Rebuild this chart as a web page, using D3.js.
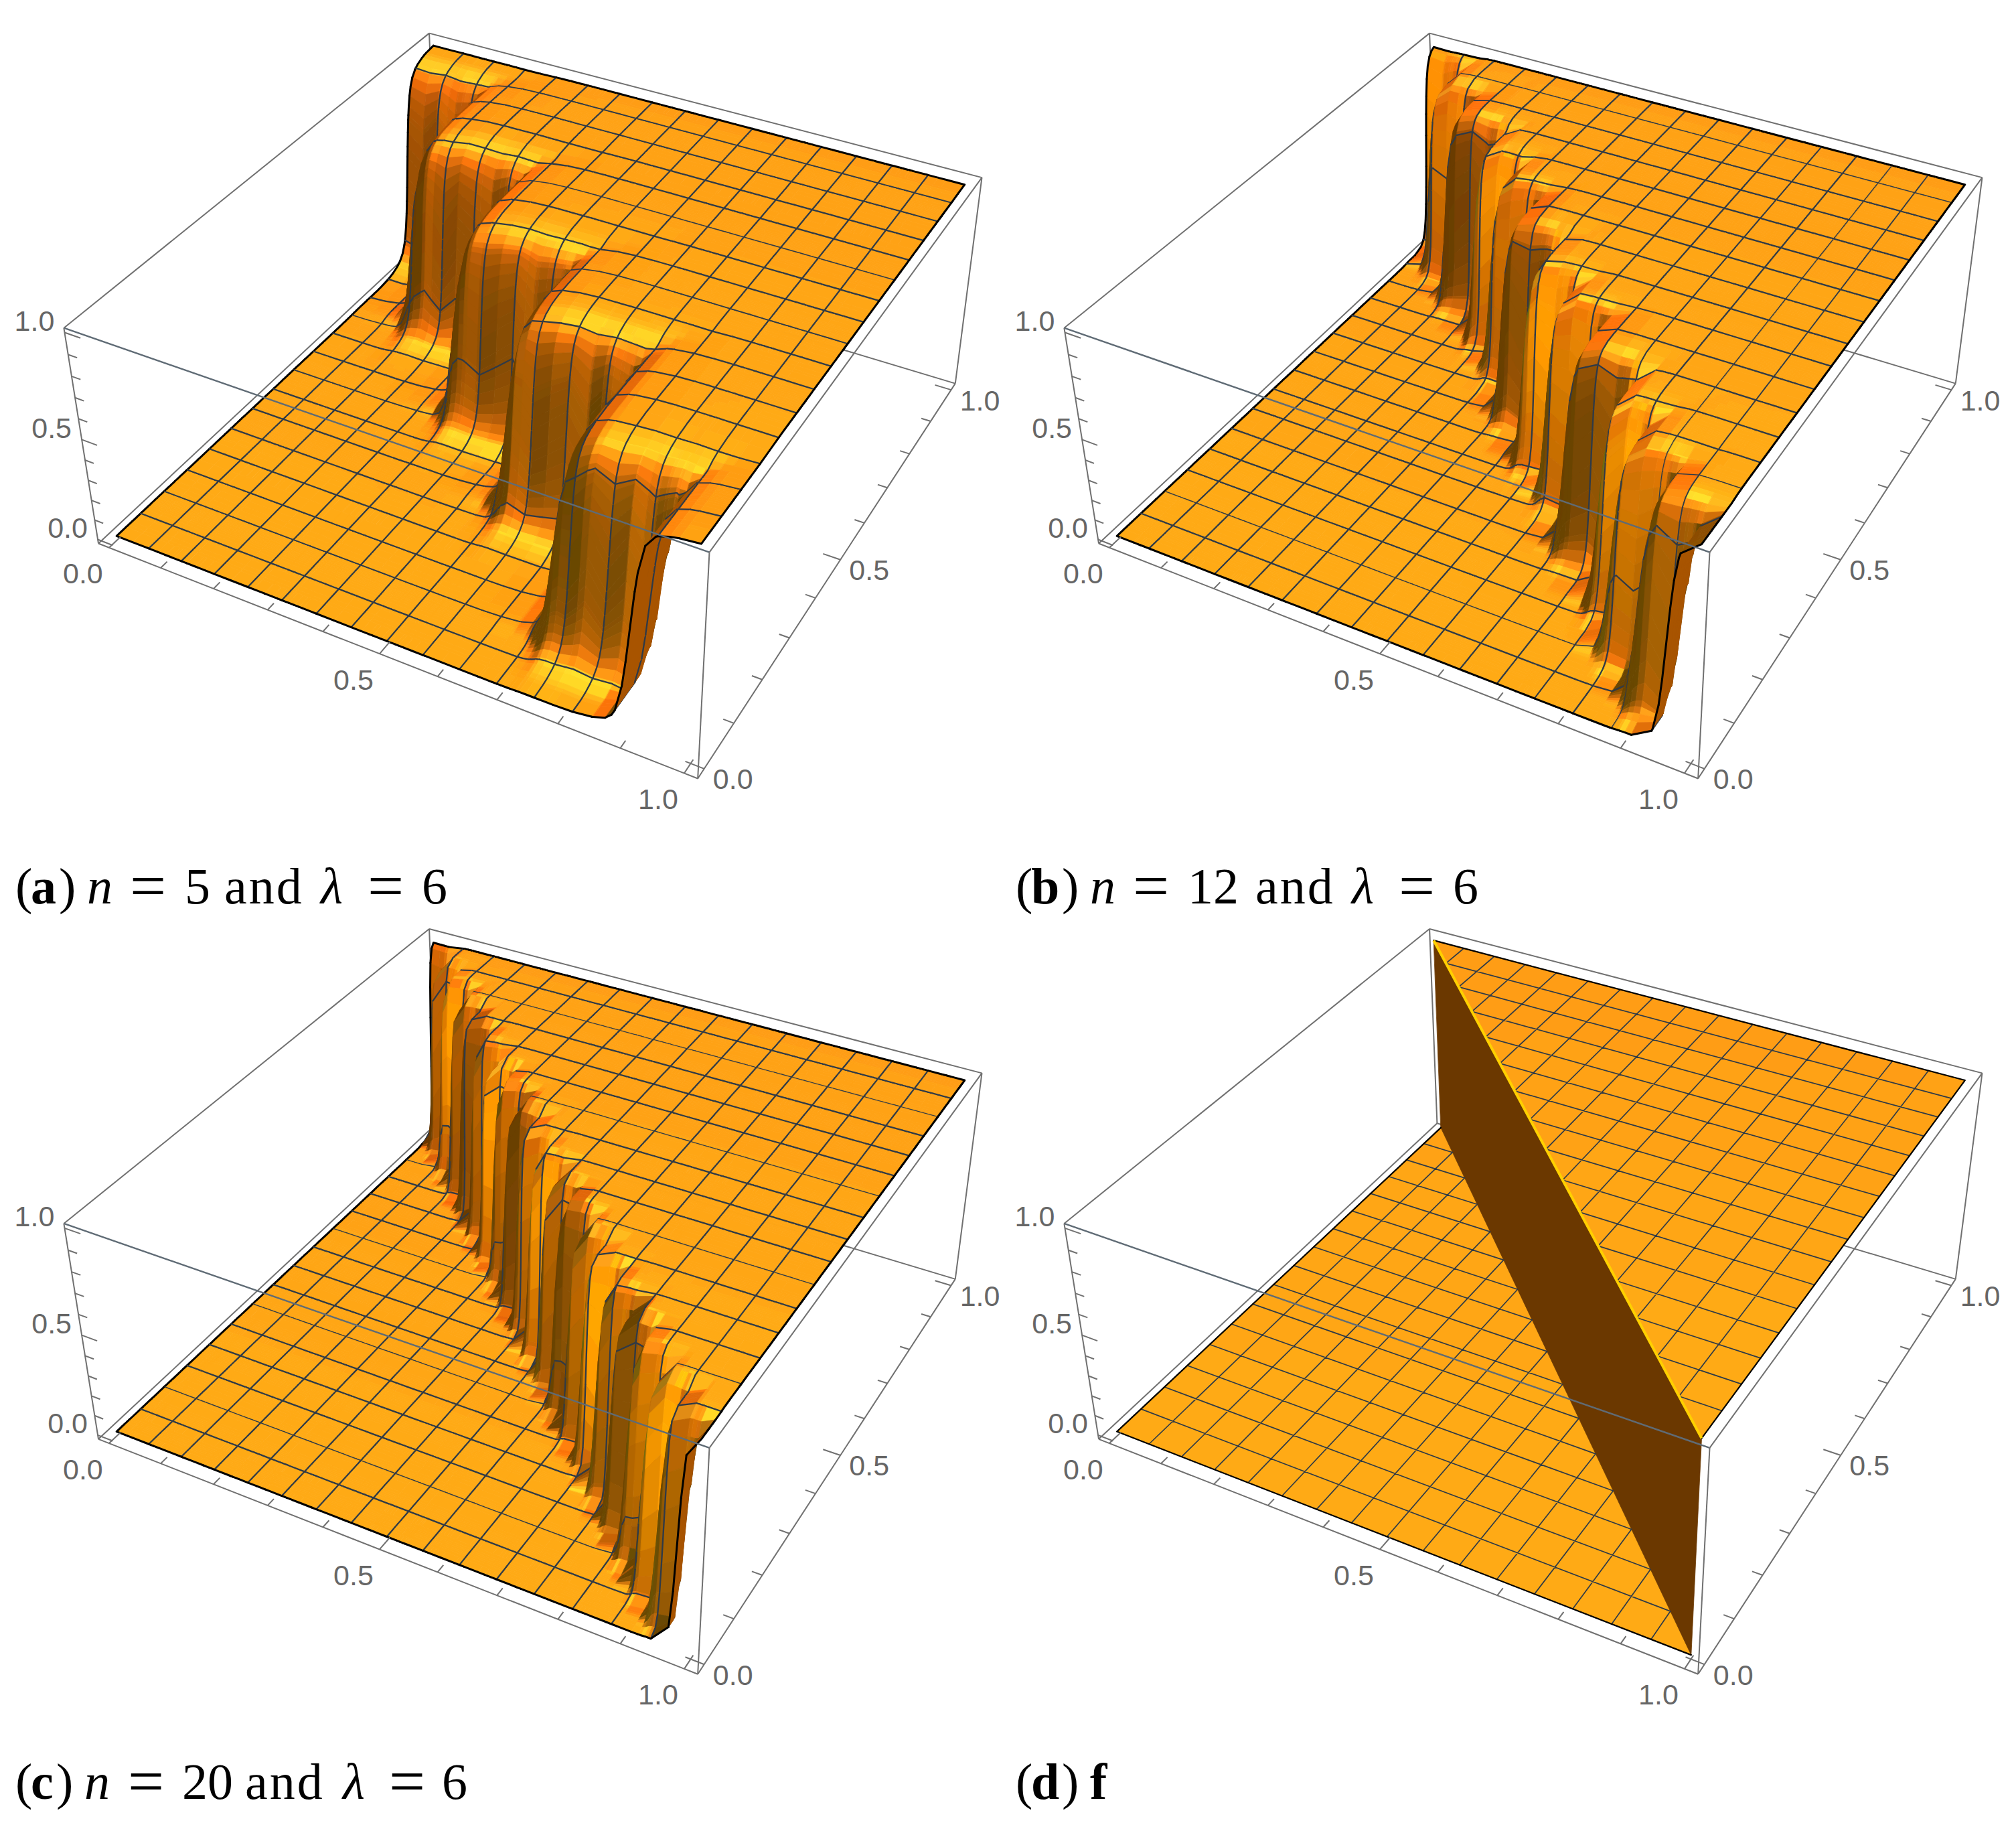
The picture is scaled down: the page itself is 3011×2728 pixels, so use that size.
<!DOCTYPE html>
<html>
<head>
<meta charset="utf-8">
<script src="https://cdnjs.cloudflare.com/ajax/libs/d3/7.8.5/d3.min.js"></script>
<style>
  body { margin: 0; background: #fff; }
  svg { display: block; }
</style>
</head>
<body>
<div id="chart"></div>
<script>
// Values
const tickValues = [0, 0.1, 0.2, 0.3, 0.4, 0.5, 0.6, 0.7, 0.8, 0.9, 1];
const labelValues = [0, 0.5, 1];
const meshLines = d3.range(1, 16).map(k => k / 16);

// Wall position along y, where each wall ends along x, and how each wall face catches the light
const wallYA = [0.895, 0.7, 0.505, 0.335, 0.105];
const breakXA = [0.115, 0.315, 0.51, 0.715, 0.9];
const tintA = [0.1, 0.05, 0.05, 0.05, 0.05];
const wobbleA = [0, 1, -1, 1, 0, -1, 1, -1, 0, 1, -1, 0, 1, 0, -1, 1, 0, -1, 1, 0, -1, 1, -1, 0, 1, -1, 1, -1, 1, -1, 1, 0, 0];

const wallYB = [0.96, 0.874, 0.797, 0.72, 0.651, 0.547, 0.458, 0.395, 0.295, 0.209, 0.126, 0.051];
const breakXB = [0.05, 0.128, 0.23, 0.303, 0.383, 0.472, 0.549, 0.633, 0.736, 0.8, 0.88, 0.955];
const tintB = [0.5, 0.4, 0, 0.62, 0.4, 0, 0.62, 0.4, 0, 0.62, 0.4, 0.1];
const wobbleB = [0, 1, -1, 0, 1, 0, -1, 1, 0, -1, 0, 1, 0, -1, 1, 0, 0, 1, -1, 0, 1, 0, -1, 1, 0, -1, 0, 1, 0, -1, 1, 0, 0];

const wallYC = [0.978, 0.929, 0.879, 0.829, 0.779, 0.729, 0.679, 0.629, 0.579, 0.529, 0.479, 0.429, 0.379, 0.329, 0.279, 0.229, 0.179, 0.129, 0.079, 0.029];
const breakXC = [0.025, 0.075, 0.125, 0.175, 0.225, 0.275, 0.325, 0.375, 0.425, 0.475, 0.525, 0.575, 0.625, 0.675, 0.725, 0.775, 0.825, 0.875, 0.925, 0.972];
const tintC = [0.25, 0.42, 0.66, 0.36, 0.08, 0.42, 0.66, 0.36, 0.08, 0.42, 0.66, 0.36, 0.08, 0.42, 0.66, 0.36, 0.08, 0.42, 0.66, 0.3];
const wobbleC = [0, 0.5, -0.5, 0, 0.5, 0, -0.5, 0.5, 0, -0.5, 0, 0.5, 0, -0.5, 0.5, 0, 0, 0.5, -0.5, 0, 0.5, 0, -0.5, 0.5, 0, -0.5, 0, 0.5, 0, -0.5, 0.5, 0, 0];

// Caption pieces: text, bold, italic, enlarged
const captionA = [["(", 0, 0, 0], ["a", 1, 0, 0], [")", 0, 0, 0], ["n", 0, 1, 0], ["=", 0, 0, 1], ["5", 0, 0, 0], ["and", 0, 0, 0], ["λ", 0, 1, 0], ["=", 0, 0, 1], ["6", 0, 0, 0]];
const captionB = [["(", 0, 0, 0], ["b", 1, 0, 0], [")", 0, 0, 0], ["n", 0, 1, 0], ["=", 0, 0, 1], ["12", 0, 0, 0], ["and", 0, 0, 0], ["λ", 0, 1, 0], ["=", 0, 0, 1], ["6", 0, 0, 0]];
const captionC = [["(", 0, 0, 0], ["c", 1, 0, 0], [")", 0, 0, 0], ["n", 0, 1, 0], ["=", 0, 0, 1], ["20", 0, 0, 0], ["and", 0, 0, 0], ["λ", 0, 1, 0], ["=", 0, 0, 1], ["6", 0, 0, 0]];
const captionD = [["(", 0, 0, 0], ["d", 1, 0, 0], [")", 0, 0, 0], ["f", 1, 0, 0]];

// Layout
const captionXA = [23, 46, 88, 130, 194, 276, 335, 479, 549, 630];
const captionXB = [23, 46, 92, 134, 198, 280, 381, 525, 595, 676];
const captionXC = [23, 46, 84, 126, 191, 272, 366, 512, 581, 660];
const captionXD = [23, 46, 92, 134];
const panelDX = 1494, panelDY = 1337.3;
const captionBaseline = 1349;

const svg = d3.select("#chart").append("svg").attr("width", 3011).attr("height", 2728);

// Box corners on the page for the first panel, used to fit the camera
const boxCorners = [
  [0, 1, 1, 640.7, 50.3], [0, 0, 1, 95.7, 490], [1, 1, 1, 1467, 264], [1, 0, 1, 1059, 824.6],
  [1, 0, 0, 1043, 1162], [0, 0, 0, 146.4, 811.6], [1, 1, 0, 1426, 574], [0, 1, 0, 653, 339]
];

function fitCamera(pts) {
  // least squares for the 3x4 projection with the last entry fixed to 1
  const rows = [], rhs = [];
  pts.forEach(([x, y, z, u, v]) => {
    u /= 1000; v /= 1000;
    rows.push([x, y, z, 1, 0, 0, 0, 0, -u * x, -u * y, -u * z]); rhs.push(u);
    rows.push([0, 0, 0, 0, x, y, z, 1, -v * x, -v * y, -v * z]); rhs.push(v);
  });
  const n = 11;
  const A = d3.range(n).map(i => d3.range(n + 1).map(j => {
    if (j < n) return d3.sum(rows, r => r[i] * r[j]);
    return d3.sum(rows, (r, k) => r[i] * rhs[k]);
  }));
  for (let c = 0; c < n; c++) {
    let p = c;
    for (let r = c + 1; r < n; r++) if (Math.abs(A[r][c]) > Math.abs(A[p][c])) p = r;
    [A[c], A[p]] = [A[p], A[c]];
    for (let r = 0; r < n; r++) {
      if (r === c) continue;
      const f = A[r][c] / A[c][c];
      for (let k = c; k <= n; k++) A[r][k] -= f * A[c][k];
    }
  }
  return A.map((r, i) => r[n] / r[i]);
}
const cam = fitCamera(boxCorners);
function project(x, y, z) {
  const w = cam[8] * x + cam[9] * y + cam[10] * z + 1;
  return [1000 * (cam[0] * x + cam[1] * y + cam[2] * z + cam[3]) / w,
          1000 * (cam[4] * x + cam[5] * y + cam[6] * z + cam[7]) / w];
}

// data range sits inside the box with a small padding
const scaleX = d3.scaleLinear().domain([0, 1]).range([0.02, 0.98]);
const scaleY = d3.scaleLinear().domain([0, 1]).range([0.02, 0.98]);
const scaleZ = d3.scaleLinear().domain([0, 1]).range([0.02, 0.98]);
const pt = (x, y, z) => project(scaleX(x), scaleY(y), scaleZ(z));
const line = d3.line();
const view = [0.384, -0.708, 0.59];

function shade(nx0, ny, nz, y, tint) {
  if (nx0 * view[0] + ny * view[1] + nz * view[2] < -0.02) return "rgb(168,84,0)";
  const nx = nx0 + tint * Math.sqrt(Math.max(0, 1 - nz * nz));
  const dark = Math.max(0, -nx), lit = Math.max(0, nx);
  const q = Math.max(0, nz - 0.9 * dark);
  const m = Math.min(1, q / 0.5);
  const spec = Math.exp(-((ny + 0.5) * (ny + 0.5) + nx * nx) / 0.09);
  const spec2 = Math.exp(-((nx - 0.62) * (nx - 0.62) + (ny + 0.75) * (ny + 0.75)) / 0.05);
  const r = 0.42 + 0.58 * m + 1.0 * lit * (1 - m);
  const g = 0.216 + 0.39 * q - 0.1 * lit * q + 0.28 * spec + 0.05 * (1 - y) + 0.5 * lit * (1 - m) + 0.3 * spec2;
  const b = 0.07 * q + 0.1 * spec;
  const c = v => Math.round(Math.min(1, v) * 60) * 4.25;
  return `rgb(${c(r)},${c(g)},${c(b)})`;
}

// consecutive shapes with the same style go into one path
function addOp(ops, kind, style, d) {
  const last = ops[ops.length - 1];
  if (last && last.kind === kind && last.style === style) last.d += d;
  else ops.push({kind, style, d});
}

function gridWith(centres, offsets, step) {
  const vals = d3.range(0, 1 + step / 2, step);
  centres.forEach(c => offsets.forEach(o => {
    vals.push(c + o); vals.push(c - o);
  }));
  vals.push(...meshLines);
  const sorted = vals.filter(v => v >= 0 && v <= 1).sort(d3.ascending);
  const out = [];
  sorted.forEach(v => {
    const isMesh = meshLines.some(m => Math.abs(m - v) < 1e-9) || v === 0 || v === 1;
    if (!out.length || v - out[out.length - 1] > 0.0009) out.push(v);
    else if (isMesh) out[out.length - 1] = v;
  });
  return out;
}

function drawSurface(g, cfg) {
  const wob = d3.scaleLinear().domain(d3.range(33).map(i => i / 32)).range(cfg.wobble.map(v => v * cfg.wobbleAmp));
  const prof = (t, w1, w2, mix) => (1 - mix) / (1 + Math.exp(-t / w1)) + mix / (1 + Math.exp(-t / w2));
  const n = cfg.wallY.length;
  function height(x, y) {
    let best = prof(x - cfg.breakX[n - 1], cfg.wx, cfg.wx2, cfg.mixX);
    for (let k = 0; k < n; k++) {
      const sx = k === 0 ? 1 : prof(x - cfg.breakX[k - 1], cfg.wx, cfg.wx2, cfg.mixX);
      const sy = prof(y - cfg.wallY[k] - wob(x), cfg.wy, cfg.wy2, cfg.mixY);
      best = Math.max(best, sx * sy);
    }
    return best;
  }
  const wallAt = x => Math.min(n - 1, d3.bisectLeft(cfg.breakX, x));
  const xs = gridWith(cfg.breakX, cfg.offX, 1 / 32);
  const ys = gridWith(cfg.wallY, cfg.offY, 1 / 32);
  const zs = ys.map(y => xs.map(x => height(x, y)));
  const isMesh = v => meshLines.some(m => Math.abs(m - v) < 1e-9);
  // slopes at the grid points, so the shading blends between cells
  const gx = zs.map(row => row.map((_, i) => {
    const a = Math.max(0, i - 1), b = Math.min(xs.length - 1, i + 1);
    return (row[b] - row[a]) / (xs[b] - xs[a]);
  }));
  const gy = zs.map((row, j) => row.map((_, i) => {
    const a = Math.max(0, j - 1), b = Math.min(ys.length - 1, j + 1);
    return (zs[b][i] - zs[a][i]) / (ys[b] - ys[a]);
  }));
  const ops = [];
  for (let j = ys.length - 2; j >= 0; j--) {
    for (let i = 0; i < xs.length - 1; i++) {
      const x0 = xs[i], x1 = xs[i + 1], y0 = ys[j], y1 = ys[j + 1];
      const a = zs[j][i], b = zs[j][i + 1], c = zs[j + 1][i + 1], e = zs[j + 1][i];
      const dzx = 0.4 * (gx[j][i] + gx[j][i + 1] + gx[j + 1][i] + gx[j + 1][i + 1]) / 4;
      const dzy = 0.4 * (gy[j][i] + gy[j][i + 1] + gy[j + 1][i] + gy[j + 1][i + 1]) / 4;
      const len = Math.hypot(dzx, dzy, 1);
      const zm = (a + b + c + e) / 4;
      const tint = cfg.tint[wallAt((x0 + x1) / 2)] * (0.45 + 0.75 * zm);
      const col = shade(-dzx / len, -dzy / len, 1 / len, (y0 + y1) / 2, tint);
      const p00 = pt(x0, y0, a), p10 = pt(x1, y0, b), p11 = pt(x1, y1, c), p01 = pt(x0, y1, e);
      addOp(ops, "fill", col, line([p00, p10, p11, p01]) + "Z");
      if (i === 0) addOp(ops, "edge", "border", line([p00, p01]));
      else if (isMesh(x0)) addOp(ops, "edge", "mesh", line([p00, p01]));
      if (j === ys.length - 2) addOp(ops, "edge", "border", line([p01, p11]));
      else if (isMesh(y1)) addOp(ops, "edge", "mesh", line([p01, p11]));
      if (j === 0) addOp(ops, "edge", "border", line([p00, p10]));
      if (i === xs.length - 2) addOp(ops, "edge", "border", line([p10, p11]));
    }
  }
  paintOps(g, ops, 3, 2.3);
}

function paintOps(g, ops, borderW, meshW) {
  g.append("g").selectAll("path").data(ops).join("path")
    .attr("d", d => d.d)
    .attr("fill", d => d.kind === "fill" ? d.style : "none")
    .attr("stroke", d => d.kind === "fill" ? d.style : (d.style === "border" ? "#000" : "#2f3a47"))
    .attr("stroke-width", d => d.kind === "fill" ? 0.8 : (d.style === "border" ? borderW : meshW))
    .attr("stroke-linejoin", "round")
    .attr("stroke-linecap", "round");
}

// the limit function: a sharp wall along x + y = 1
function drawLimit(g) {
  const ops = [];
  const cols = d3.range(0, 17).map(k => k / 16);
  const colour = v => shade(0, 0, 1, v, 0);
  cols.slice(0, 16).forEach((x0, i) => cols.slice(0, 16).forEach((y0, j) => {
    const x1 = cols[i + 1], y1 = cols[j + 1];
    if (i + j >= 15) {
      const poly = i + j === 15 ? [pt(x1, y0, 1), pt(x1, y1, 1), pt(x0, y1, 1)] : [pt(x0, y0, 1), pt(x1, y0, 1), pt(x1, y1, 1), pt(x0, y1, 1)];
      addOp(ops, "fill", colour(y0 + 0.3 * (1 - x0)), line(poly) + "Z");
    }
    if (i + j <= 15) {
      const poly = i + j === 15 ? [pt(x0, y0, 0), pt(x1, y0, 0), pt(x0, y1, 0)] : [pt(x0, y0, 0), pt(x1, y0, 0), pt(x1, y1, 0), pt(x0, y1, 0)];
      addOp(ops, "fill", colour(y0 * 0.5 + 0.2 * (1 - x0)), line(poly) + "Z");
    }
  }));
  ops.push({kind: "fill", style: "rgb(107,56,0)", d: line([pt(0, 1, 1), pt(1, 0, 1), pt(1, 0, 0), pt(0, 1, 0)]) + "Z"});
  meshLines.forEach(m => {
    addOp(ops, "edge", "mesh", line([pt(m, 1 - m, 1), pt(m, 1, 1)]));
    addOp(ops, "edge", "mesh", line([pt(1 - m, m, 1), pt(1, m, 1)]));
    addOp(ops, "edge", "mesh", line([pt(m, 0, 0), pt(m, 1 - m, 0)]));
    addOp(ops, "edge", "mesh", line([pt(0, m, 0), pt(1 - m, m, 0)]));
  });
  [[pt(0, 1, 1), pt(1, 1, 1)], [pt(1, 1, 1), pt(1, 0, 1)], [pt(0, 0, 0), pt(1, 0, 0)], [pt(0, 0, 0), pt(0, 1, 0)]].forEach(s => addOp(ops, "edge", "border", line(s)));
  paintOps(g, ops, 2.2, 1.7);
  g.append("path").attr("d", line([pt(0, 1, 1), pt(1, 0, 1)]))
    .attr("fill", "none").attr("stroke", "#ffd000").attr("stroke-width", 4);
}

function boxLine(g, a, b, col, w) {
  g.append("path").attr("d", line([project(...a), project(...b)]))
    .attr("fill", "none").attr("stroke", col || "#707070").attr("stroke-width", w || 2);
}

function drawAxes(g) {
  const majors = [0, 0.5, 1];
  const len = v => majors.includes(v) ? 0.028 : 0.016;
  tickValues.forEach(v => {
    boxLine(g, [scaleX(v), 0, 0], [scaleX(v), len(v), 0]);
    boxLine(g, [1, scaleY(v), 0], [1 - len(v), scaleY(v), 0]);
    boxLine(g, [0, 0, scaleZ(v)], [len(v), 0, scaleZ(v)]);
  });
  const fmt = d3.format(".1f");
  const label = (v, p, ox, oy) => g.append("text")
    .attr("x", p[0] + ox).attr("y", p[1] + oy).attr("dy", "0.36em")
    .attr("text-anchor", "middle")
    .attr("font-family", "'Liberation Sans', Arimo, Helvetica, sans-serif")
    .attr("font-size", 43).attr("fill", "#666").text(fmt(v));
  labelValues.forEach(v => {
    label(v, project(scaleX(v), 0, 0), -39, 38);
    label(v, project(1, scaleY(v), 0), 43, 15);
    label(v, project(0, 0, scaleZ(v)), -45, -18);
  });
}

function drawCaption(g, tokens, xs) {
  tokens.forEach(([t, bold, ital, big], i) => {
    g.append("text").attr("x", xs[i]).attr("y", captionBaseline + (big ? 6 : 0))
      .attr("font-family", "'Liberation Serif', 'DejaVu Serif', serif")
      .attr("font-size", big ? 96 : 76)
      .attr("font-weight", bold ? 700 : 400)
      .attr("font-style", ital ? "italic" : "normal")
      .attr("letter-spacing", t === "and" ? 3 : 0)
      .attr("fill", "#000").text(t);
  });
}

const panels = [
  {dx: 0, dy: 0, caption: captionA, capX: captionXA, wallY: wallYA, breakX: breakXA, wobble: wobbleA, wobbleAmp: 0.0028, tint: tintA,
   wy: 0.008, wy2: 0.026, mixY: 0.24, wx: 0.007, wx2: 0.03, mixX: 0.15,
   offY: [0.002, 0.004, 0.007, 0.01, 0.014, 0.018, 0.023, 0.03, 0.04, 0.05, 0.065, 0.08], offX: [0.005, 0.01, 0.02, 0.035, 0.055]},
  {dx: panelDX, dy: 0, caption: captionB, capX: captionXB, wallY: wallYB, breakX: breakXB, wobble: wobbleB, wobbleAmp: 0.0022, tint: tintB,
   wy: 0.0055, wy2: 0.014, mixY: 0.2, wx: 0.005, wx2: 0.014, mixX: 0.18,
   offY: [0.002, 0.005, 0.008, 0.012, 0.017, 0.024, 0.032], offX: [0.004, 0.008, 0.016]},
  {dx: 0, dy: panelDY, caption: captionC, capX: captionXC, wallY: wallYC, breakX: breakXC, wobble: wobbleC, wobbleAmp: 0.0018, tint: tintC,
   wy: 0.0035, wy2: 0.008, mixY: 0.16, wx: 0.003, wx2: 0.008, mixX: 0.14,
   offY: [0.002, 0.005, 0.009, 0.015], offX: [0.003, 0.008]},
  {dx: panelDX, dy: panelDY, caption: captionD, capX: captionXD, limit: true}
];

panels.forEach(cfg => {
  const g = svg.append("g").attr("transform", `translate(${cfg.dx},${cfg.dy})`);
  // box edges behind the surface
  boxLine(g, [0, 1, 1], [0, 1, 0]);
  boxLine(g, [0, 0, 0], [0, 1, 0]);
  boxLine(g, [0, 1, 0], [1, 1, 0]);
  boxLine(g, [0, 1, 1], [0, 0, 1]);
  boxLine(g, [0, 1, 1], [1, 1, 1]);
  boxLine(g, [1, 1, 1], [1, 0, 1]);
  boxLine(g, [1, 1, 1], [1, 1, 0]);
  if (cfg.limit) drawLimit(g); else drawSurface(g, cfg);
  // box edges in front of it
  boxLine(g, [0, 0, 1], [1, 0, 1], "#5f6b75", 2.4);
  boxLine(g, [0, 0, 1], [0, 0, 0]);
  boxLine(g, [1, 0, 1], [1, 0, 0]);
  boxLine(g, [0, 0, 0], [1, 0, 0]);
  boxLine(g, [1, 0, 0], [1, 1, 0]);
  drawAxes(g);
  drawCaption(g, cfg.caption, cfg.capX);
});
</script>
</body>
</html>
